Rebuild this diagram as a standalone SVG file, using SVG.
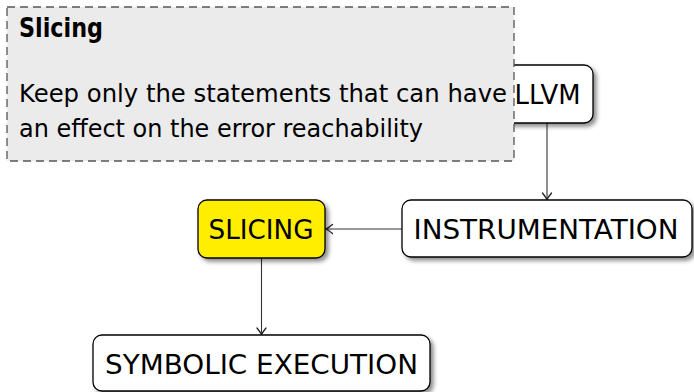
<svg xmlns="http://www.w3.org/2000/svg" width="694" height="392" viewBox="0 0 694 392">
<style>
.box{fill:#ffffff;stroke:#000;stroke-width:1.3}
.hl{fill:#ffee00;stroke:#000;stroke-width:1.3}
.lbl{font-family:"DejaVu Sans","Liberation Sans",sans-serif;font-size:27px;fill:#000;text-anchor:middle}
.note{fill:#ebebeb;stroke:#555;stroke-width:1.3;stroke-dasharray:8,5}
.nt{font-family:"DejaVu Sans","Liberation Sans",sans-serif;font-size:25.5px;fill:#000}
.ntb{font-family:"DejaVu Sans","Liberation Sans",sans-serif;font-size:26px;font-weight:bold;fill:#000}
.edge{stroke:#333;stroke-width:1.1;fill:none}
</style>
<defs>
<filter id="sh" x="-20%" y="-30%" width="140%" height="170%">
<feDropShadow dx="3" dy="3" stdDeviation="2" flood-color="#000" flood-opacity="0.45"/>
</filter>
<marker id="arr" viewBox="-10 -6 12 12" refX="0" refY="0" markerWidth="12" markerHeight="12" markerUnits="userSpaceOnUse" orient="auto">
<path d="M-6.5,-4.5 Q-2,-1 0,0 Q-2,1 -6.5,4.5" fill="none" stroke="#222" stroke-width="1.3" stroke-linecap="round"/>
</marker>
</defs>

<g id="connectors">
<line class="edge" x1="547" y1="123" x2="547" y2="199.5" marker-end="url(#arr)"/>
<line class="edge" x1="402" y1="229" x2="326" y2="229" marker-end="url(#arr)"/>
<line class="edge" x1="261.5" y1="258" x2="261.5" y2="334.5" marker-end="url(#arr)"/>
</g>

<g id="llvm">
<rect class="box" x="501" y="65" width="92" height="58" rx="9" filter="url(#sh)"/>
<text class="lbl" x="547.5" y="103.5" textLength="66" lengthAdjust="spacingAndGlyphs">LLVM</text>
</g>

<g id="instrumentation">
<rect class="box" x="402" y="200" width="290" height="57" rx="9" filter="url(#sh)"/>
<text class="lbl" x="546" y="238.5" textLength="265" lengthAdjust="spacingAndGlyphs">INSTRUMENTATION</text>
</g>

<g id="slicing">
<rect class="hl" x="198" y="200" width="127" height="58" rx="9" filter="url(#sh)"/>
<text class="lbl" x="261" y="238.5" textLength="105" lengthAdjust="spacingAndGlyphs">SLICING</text>
</g>

<g id="symbolic-execution">
<rect class="box" x="93" y="335" width="337" height="56" rx="9" filter="url(#sh)"/>
<text class="lbl" x="261.5" y="373.5" textLength="313" lengthAdjust="spacingAndGlyphs">SYMBOLIC EXECUTION</text>
</g>

<g id="slicing-note">
<rect class="note" x="7" y="7" width="507" height="154"/>
<text class="ntb" x="19" y="36.5" textLength="84" lengthAdjust="spacingAndGlyphs">Slicing</text>
<text class="nt" x="19" y="101.5" textLength="488" lengthAdjust="spacingAndGlyphs">Keep only the statements that can have</text>
<text class="nt" x="19" y="137" textLength="404" lengthAdjust="spacingAndGlyphs">an effect on the error reachability</text>
</g>
</svg>
